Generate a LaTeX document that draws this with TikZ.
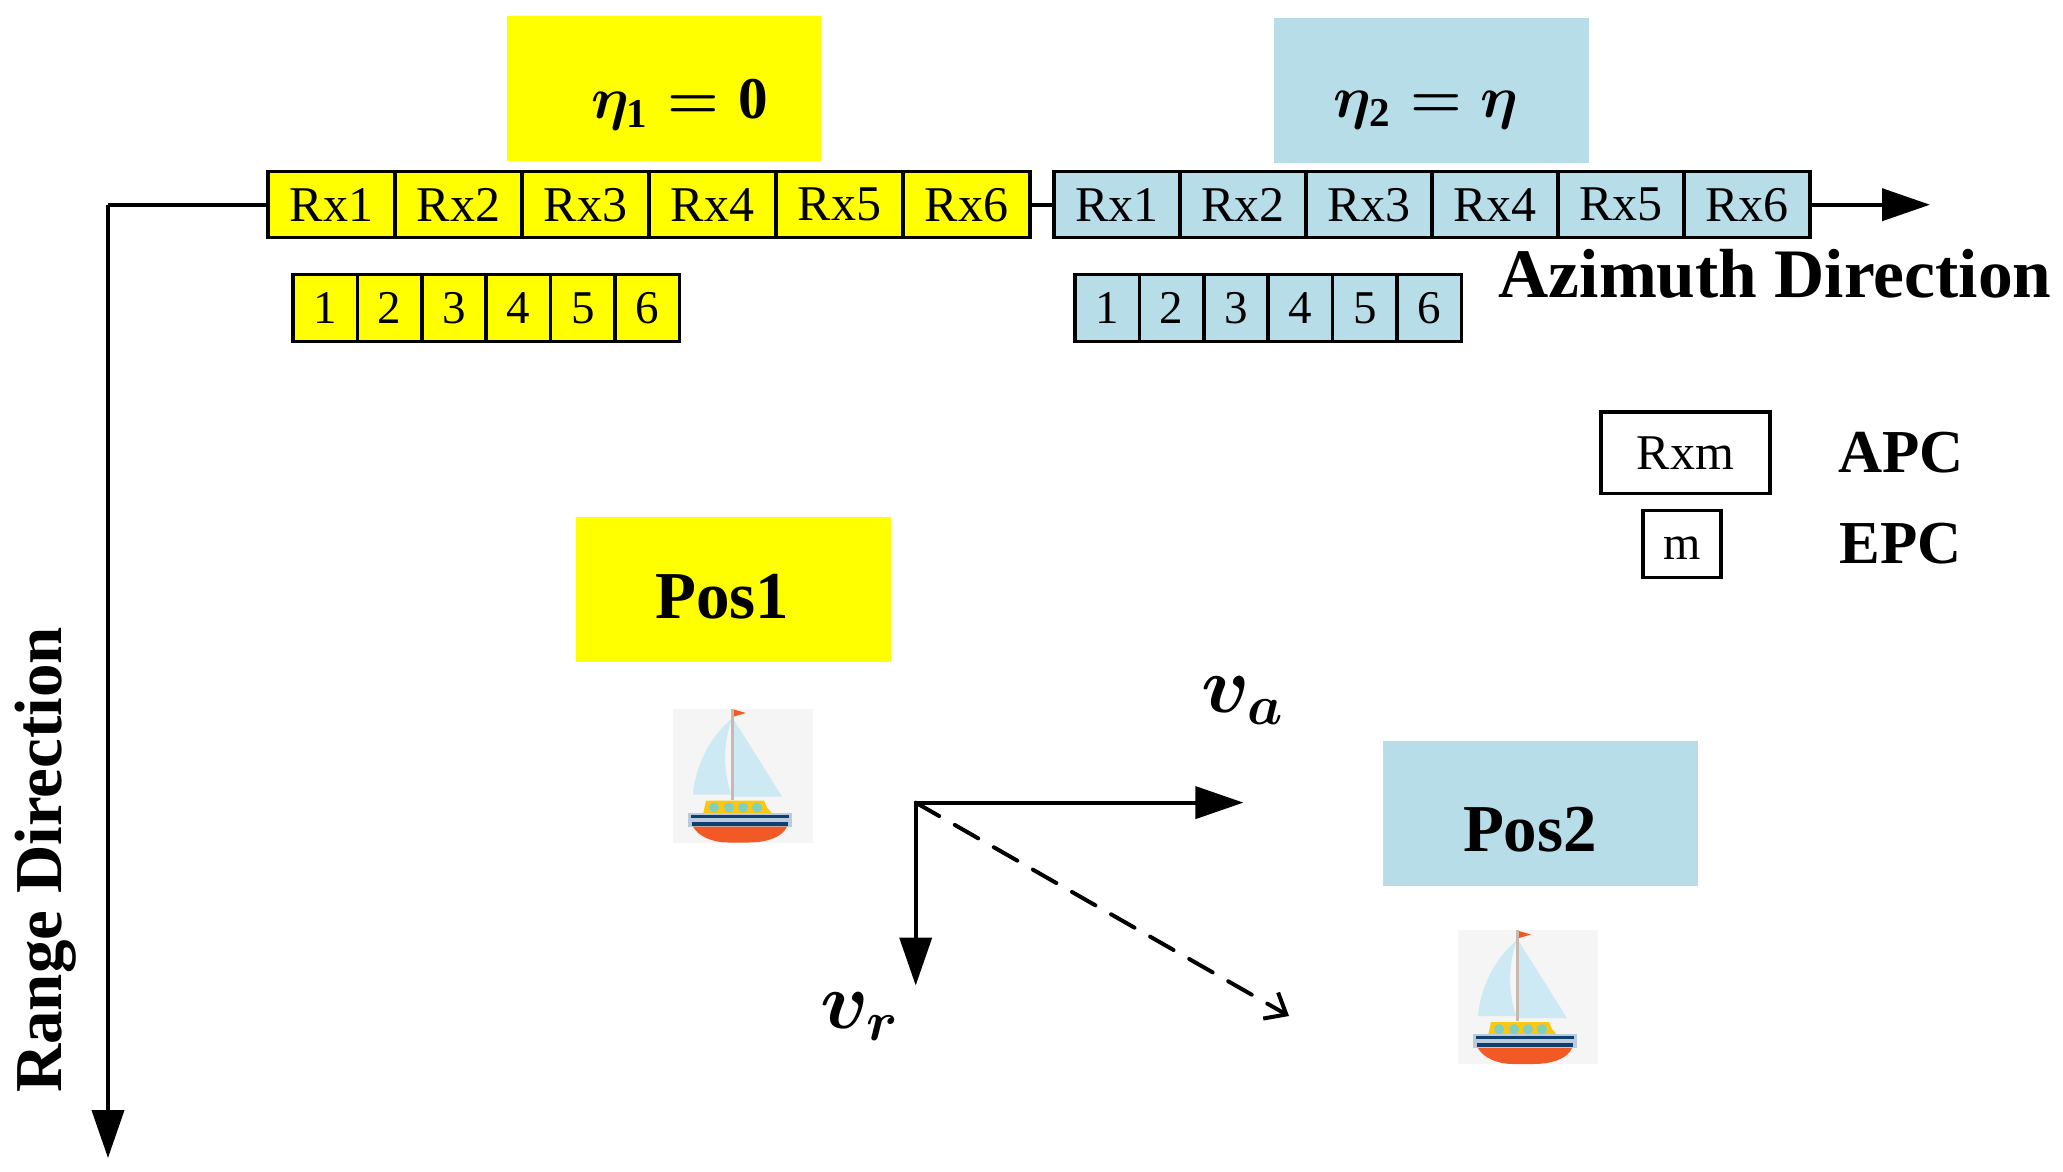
\documentclass[tikz,border=0pt]{standalone}
\usepackage{amsmath}
\usepackage{fontspec}
\setmainfont{Liberation Serif}
\usetikzlibrary{arrows.meta,positioning}
\definecolor{palecyan}{HTML}{B7DEE8}
\definecolor{pureyellow}{HTML}{FFFF00}
\definecolor{sailblue}{HTML}{CDE9F3}
\definecolor{hullred}{HTML}{F15A24}
\definecolor{deckblue}{HTML}{0F3F6E}
\definecolor{deckpale}{HTML}{B9CBDC}
\definecolor{cabinyellow}{HTML}{FCC80F}
\definecolor{portgreen}{HTML}{80CFC2}
\definecolor{mastgrey}{HTML}{C9B8B0}
\newcommand{\sailboat}[2]{%
	\begin{scope}[shift={(#1,#2)}]
		\fill[black!4] (0,0) rectangle (140,134);
		\fill[sailblue] (59,10) .. controls (35,30) and (22,60) .. (20,86) -- (58,86) .. controls (50,60) and (50,35) .. cycle;
		\fill[sailblue] (60,10) -- (109,88) -- (60,88) -- cycle;
		\fill[mastgrey] (58,0) rectangle (61,91);
		\fill[hullred] (61,1) -- (73,4.5) -- (61,8) -- cycle;
		\fill[cabinyellow] (30,106) -- (33,92) -- (91,92) -- (94,99) -- (100,106) -- cycle;
		\foreach \px in {41,56,70,84}
			\fill[portgreen] (\px,99) circle (5);
		\fill[deckpale] (15,104) rectangle (119,118);
		\fill[deckblue] (18,106) rectangle (116,109);
		\fill[deckblue] (19,113) rectangle (115,117);
		\fill[hullred] (20,118) -- (114,118) .. controls (110,128) and (95,134) .. (75,134) -- (55,134) .. controls (40,134) and (25,128) .. cycle;
	\end{scope}
}

\begin{document}
\begin{tikzpicture}[x=1pt,y=-1pt,
		node distance=0pt,
		cell/.style={rectangle,draw=black,line width=3.5pt,outer sep=0pt,inner sep=0pt,
			font=\fontsize{50}{52}\selectfont},
		apc/.style={cell,minimum width=127pt,minimum height=66pt},
		apcb/.style={cell,minimum width=126pt,minimum height=66pt},
		epc/.style={cell,minimum width=64.4pt,minimum height=67pt,font=\fontsize{47}{50}\selectfont},
		tag/.style={inner sep=0pt,outer sep=0pt,minimum width=314.5pt,minimum height=145pt},
		caption/.style={inner sep=0pt,font=\fontsize{67}{70}\selectfont\bfseries},
		symb/.style={inner sep=0pt,scale=2.85,font=\fontsize{20.74}{24}\selectfont\boldmath},
		big arrow/.style={line width=4pt,-{Triangle[length=48pt,width=32pt]}}
	]
	\useasboundingbox (0,0) rectangle (2063,1171);

	\node[tag,fill=pureyellow] (tagone) at (663.8,88.3) {};
	\node[tag,fill=palecyan] (tagtwo) at (1431.5,90.3) {};
	\node[symb] (etaone) at (679.6,105) {$\eta_{\textbf{1}}=\textbf{0}$};
	\node[symb] (etatwo) at (1426,110.5) {$\eta_{\textbf{2}}=\eta$};

	% APC rows
	\node[apc,fill=pureyellow] (rxa1) at (331.5,204.7) {Rx1};
	\node[apcb,fill=palecyan] (rxb1) at (1117,204.7) {Rx1};
	\foreach \i [evaluate=\i as \prev using int(\i-1)] in {2,...,6} {
		\node[apc,fill=pureyellow,right=of rxa\prev] (rxa\i) {Rx\i};
		\node[apcb,fill=palecyan,right=of rxb\prev] (rxb\i) {Rx\i};
	}

	% EPC rows
	\node[epc,fill=pureyellow] (epa1) at (325.2,308) {1};
	\node[epc,fill=palecyan] (epb1) at (1107.2,308) {1};
	\foreach \i [evaluate=\i as \prev using int(\i-1)] in {2,...,6} {
		\node[epc,fill=pureyellow,right=of epa\prev] (epa\i) {\i};
		\node[epc,fill=palecyan,right=of epb\prev] (epb\i) {\i};
	}

	\coordinate (corner) at (108,204.7);
	\coordinate (rangeend) at (108,1158);
	\coordinate (azimend) at (1930,204.7);
	\draw[line width=4pt] (rxa1.west) -- (corner);
	\draw[big arrow] (corner) -- (rangeend);
	\draw[line width=4pt] (rxa6.east) -- (rxb1.west);
	\draw[big arrow] (rxb6.east) -- (azimend);

	\node[caption,font=\fontsize{69.5}{72}\selectfont\bfseries] (azim) at (1775,273.6) {Azimuth Direction};
	\node[caption,rotate=90] (range) at (46,860) {Range Direction};

	% legend
	\node[cell,minimum width=169pt,minimum height=81.5pt] (legapc) at (1685.5,452.7) {Rxm};
	\node[cell,minimum width=78pt,minimum height=67pt,font=\fontsize{48}{50}\selectfont] (legepc) at (1682,544) {\vphantom{R}m};
	\node[caption,font=\fontsize{61}{64}\selectfont\bfseries,right=68pt of legapc] (apctext) {APC};
	\node[caption,font=\fontsize{61}{64}\selectfont\bfseries] (epctext) at (apctext|-legepc) {EPC};

	% positions
	\node[tag,fill=pureyellow] (posone) at (733.5,589.5) {};
	\node[caption] (posonetext) at (722.3,597) {Pos1};
	\node[tag,fill=palecyan] (postwo) at (1540.5,813.8) {};
	\node[caption] (postwotext) at (1530,830) {Pos2};
	\sailboat{673}{708.5}
	\sailboat{1458}{930}

	% velocity
	\coordinate (origin) at (915.7,802.6);
	\coordinate (vaend) at (1243.4,802.6);
	\coordinate (vrend) at (915.7,985.5);
	\coordinate (vend) at (1289,1016);
	\draw[big arrow] (origin) -- (vaend);
	\draw[big arrow] (origin) -- (vrend);
	\draw[line width=4pt,line cap=round,dash pattern=on 27pt off 18pt,-{Straight Barb[length=18pt,width=30pt,line width=4pt]}] (origin) -- (vend);
	\node[symb,scale=1.36] (valabel) at (1243,701) {$v_a$};
	\node[symb,scale=1.36] (vrlabel) at (860,1017) {$v_r$};
\end{tikzpicture}
\end{document}
